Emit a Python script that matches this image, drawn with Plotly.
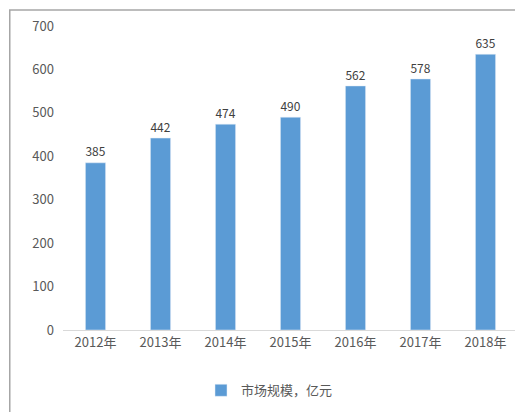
import plotly.graph_objects as go

years = ["2012年", "2013年", "2014年", "2015年", "2016年", "2017年", "2018年"]
market_size = [385, 442, 474, 490, 562, 578, 635]

font_family = "Noto Sans CJK SC, Noto Sans, sans-serif"

fig = go.Figure(go.Bar(
    x=years, y=market_size, name="市场规模，亿元",
    marker_color="#5B9BD5",
    text=market_size, textposition="outside", cliponaxis=False,
    textfont=dict(size=14, color="#404040"),
))

fig.update_layout(
    width=523, height=412,
    margin=dict(l=55, r=13, t=18, b=90, autoexpand=False),
    paper_bgcolor="white", plot_bgcolor="white",
    font=dict(family=font_family, size=13, color="#595959"),
    bargap=0.69,
    showlegend=True,
    legend=dict(orientation="h", x=0.5, xanchor="center", xref="container",
                y=0.072, yanchor="middle", yref="container",
                font=dict(size=13, color="#595959")),
    xaxis=dict(showline=True, linecolor="#D9D9D9", ticks="", tickfont=dict(size=13),
               automargin=False),
    yaxis=dict(range=[0, 700], dtick=100, showgrid=False, zeroline=False,
               tickfont=dict(size=13), ticklabelstandoff=8, automargin=False),
    shapes=[dict(type="rect", xref="paper", yref="paper",
                 x0=-0.117, x1=1.024, y0=-0.286, y1=1.053,
                 line=dict(color="#A6A6A6", width=1.5))],
)

fig.write_html("out.html")
